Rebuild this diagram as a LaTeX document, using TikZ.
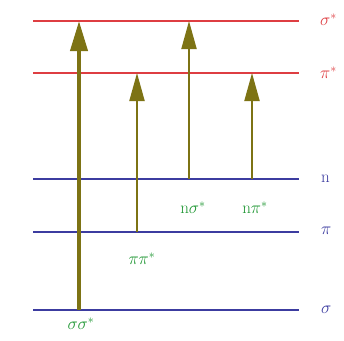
\documentclass[tikz,border=0pt]{standalone}
\usetikzlibrary{arrows.meta}
\definecolor{lvred}{RGB}{222,62,66}
\definecolor{lvblue}{RGB}{60,60,160}
\definecolor{arrolive}{RGB}{125,115,20}
\definecolor{lblgreen}{RGB}{30,150,50}
\tikzset{
  antibond/.style={draw=lvred,line width=2pt},
  bond/.style={draw=lvblue,line width=1.8pt},
  trans/.style={draw=arrolive,line width=2pt,-{Triangle[length=28pt,width=15pt]}},
  bigtrans/.style={trans,line width=4pt,-{Triangle[length=30pt,width=17pt]}},
  lvlabel/.style={anchor=west,font=\fontsize{17}{20}\selectfont,inner sep=0pt},
  trlabel/.style={text=lblgreen,font=\fontsize{17}{20}\selectfont,inner sep=0pt}
}
\begin{document}
\begin{tikzpicture}[x=1pt,y=-1pt]
\useasboundingbox (0,0) rectangle (344,340);
% levels
\coordinate (sSL) at (33,21);  \coordinate (sSR) at (299,21);
\coordinate (pSL) at (33,73);  \coordinate (pSR) at (299,73);
\coordinate (nL) at (33,179);  \coordinate (nR) at (299,179);
\coordinate (pL) at (33,232);  \coordinate (pR) at (299,232);
\coordinate (sL) at (33,310);  \coordinate (sR) at (299,310);
\draw[antibond] (sSL) -- (sSR);
\draw[antibond] (pSL) -- (pSR);
\draw[bond] (nL) -- (nR);
\draw[bond] (pL) -- (pR);
\draw[bond] (sL) -- (sR);
% level labels
\node[lvlabel,text=lvred] (lsS) at (320,20) {$\sigma^{*}$};
\node[lvlabel,text=lvred] (lpS) at (320,73) {$\pi^{*}$};
\node[lvlabel,text=lvblue] (ln) at (321,179) {n};
\node[lvlabel,text=lvblue] (lp) at (321,231) {$\pi$};
\node[lvlabel,text=lvblue] (ls) at (321,310) {$\sigma$};
% transition endpoints
\coordinate (a1s) at (79,310);  \coordinate (a1e) at (79,21);
\coordinate (a2s) at (137,232); \coordinate (a2e) at (137,73);
\coordinate (a3s) at (189,179); \coordinate (a3e) at (189,21);
\coordinate (a4s) at (252,179); \coordinate (a4e) at (252,73);
\draw[bigtrans] (a1s) -- (a1e);
\draw[trans] (a2s) -- (a2e);
\draw[trans] (a3s) -- (a3e);
\draw[trans] (a4s) -- (a4e);
% transition labels
\node[trlabel] (t1) at (81,324) {$\sigma\sigma^{*}$};
\node[trlabel] (t2) at (142,259) {$\pi\pi^{*}$};
\node[trlabel] (t3) at (193,208) {n$\sigma^{*}$};
\node[trlabel] (t4) at (255,208) {n$\pi^{*}$};
\end{tikzpicture}
\end{document}
